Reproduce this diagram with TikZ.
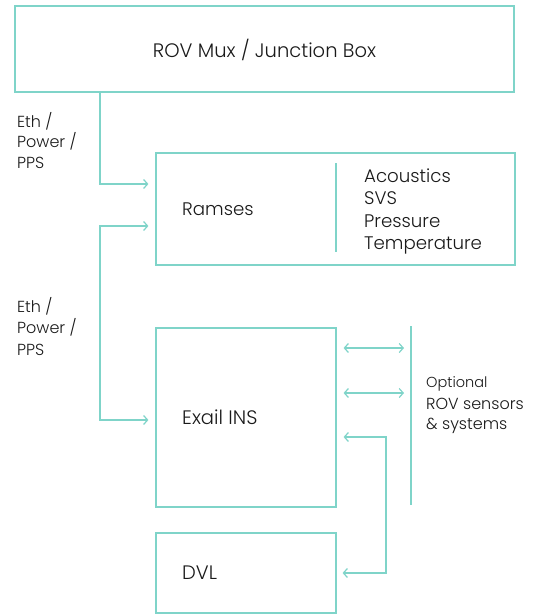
\documentclass[tikz,border=0pt]{standalone}
\usepackage{fontspec}
\setmainfont{Poppins}[UprightFont=* Light]
\usetikzlibrary{arrows.meta}
\definecolor{tealline}{HTML}{7FD4C9}
\definecolor{ink}{HTML}{1A1A1A}
\begin{document}
\begin{tikzpicture}[x=1pt,y=-1pt,
  box/.style={draw=tealline,line width=1.2pt,rectangle,inner sep=0pt},
  lbl/.style={inner sep=0pt,anchor=base west,text=ink,font=\fontsize{16}{20}\selectfont},
  big/.style={inner sep=0pt,anchor=base west,text=ink,font=\fontsize{19.5}{22}\selectfont},
  mid/.style={inner sep=0pt,anchor=base west,text=ink,font=\fontsize{18.2}{22}\selectfont},
  small/.style={inner sep=0pt,anchor=base west,text=ink,font=\fontsize{14.5}{17}\selectfont},
  conn/.style={draw=tealline,line width=1.2pt},
  tipR/.style={-{Straight Barb[length=4pt,width=9pt]}},
  tipLR/.style={{Straight Barb[length=4pt,width=9pt]}-{Straight Barb[length=4pt,width=9pt]}}]
\useasboundingbox[fill=white] (0,0) rectangle (539,614);
% boxes
\node[box,minimum width=499pt,minimum height=86pt] (mux) at (264.5,49) {};
\node[box,minimum width=359pt,minimum height=112pt] (ramses) at (335.5,209) {};
\node[box,minimum width=180pt,minimum height=179pt] (exail) at (246,417.5) {};
\node[box,minimum width=180pt,minimum height=80pt] (dvl) at (246,573) {};
% texts
\node[big,anchor=base] (muxt) at (264.5,57) {ROV Mux / Junction Box};
\node[mid] (ramt) at (182,215) {Ramses};
\node[mid] (s1) at (364,182) {Acoustics};
\node[mid] (s2) at (364,204.5) {SVS};
\node[mid] (s3) at (364,227) {Pressure};
\node[mid] (s4) at (364,249.5) {Temperature};
\node[big] (exat) at (182,424) {Exail INS};
\node[big] (dvlt) at (182,579) {DVL};
\node[lbl] (e1a) at (17,127) {Eth /};
\node[lbl] (e1b) at (17,147.5) {Power /};
\node[lbl] (e1c) at (17,168) {PPS};
\node[lbl] (e2a) at (17,312) {Eth /};
\node[lbl] (e2b) at (17,333.5) {Power /};
\node[lbl] (e2c) at (17,355) {PPS};
\node[small] (o1) at (426,387) {Optional};
\node[lbl] (o2) at (426,409) {ROV sensors};
\node[lbl] (o3) at (426,429.5) {\& systems};
% divider and rule
\coordinate (dvt) at (336,163);
\coordinate (dvb) at (336,252);
\draw[conn] (dvt) -- (dvb);
\coordinate (rt) at (411,326);
\coordinate (rb) at (411,505);
\draw[conn] (rt) -- (rb);
% connectors
\coordinate (c1) at (100,184);
\draw[conn,tipR,shorten >=7pt] (mux.south -| c1) -- (c1) -- (ramses.west |- c1);
\coordinate (c2) at (100,226);
\coordinate (c3) at (100,420);
\draw[conn,tipLR,shorten <=7pt,shorten >=7pt] (ramses.west |- c2) -- (c2) -- (c3) -- (exail.west |- c3);
\coordinate (a1) at (411,348);
\coordinate (a2) at (411,393);
\draw[conn,tipLR,shorten <=7pt,shorten >=7pt] (exail.east |- a1) -- (a1);
\draw[conn,tipLR,shorten <=7pt,shorten >=7pt] (exail.east |- a2) -- (a2);
\coordinate (d1) at (386,437);
\coordinate (d2) at (386,573);
\draw[conn,tipLR,shorten <=7pt,shorten >=6pt] (exail.east |- d1) -- (d1) -- (d2) -- (dvl.east |- d2);
\end{tikzpicture}
\end{document}
